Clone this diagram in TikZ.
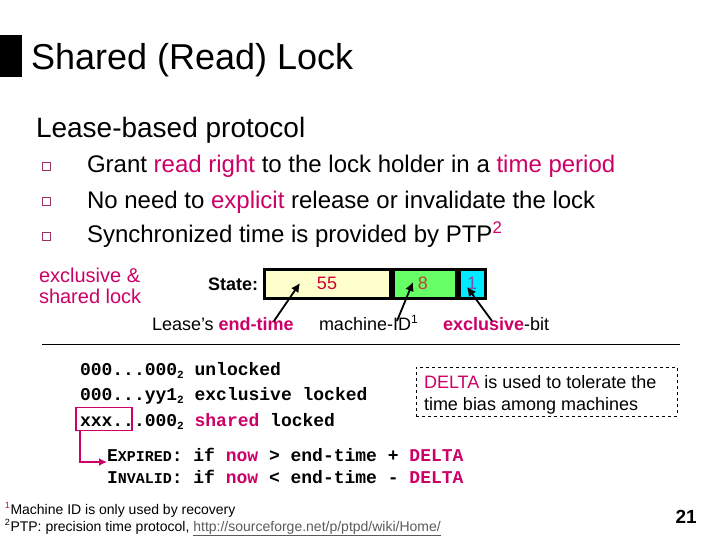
\documentclass[tikz,border=0pt]{standalone}
\usepackage{fontspec}
\setmainfont{Liberation Sans}
\setmonofont{Liberation Mono}
\usetikzlibrary{arrows.meta}
\definecolor{mag}{RGB}{204,0,102}
\definecolor{crim}{RGB}{204,0,51}
\definecolor{brn}{RGB}{196,64,56}
\definecolor{purp}{RGB}{128,80,170}
\definecolor{yel}{RGB}{255,255,204}
\definecolor{grn}{RGB}{102,255,102}
\definecolor{cyn}{RGB}{0,235,255}
\definecolor{bul}{RGB}{153,51,102}
\definecolor{lnk}{RGB}{90,90,90}
\newcommand\myfs[1]{\fontsize{#1}{#1}\selectfont}
\newcommand\msub[1]{\raisebox{-3pt}{\myfs{11}#1}}
\begin{document}
\begin{tikzpicture}[x=1pt,y=-1pt,
  txt/.style={anchor=base west, inner sep=0pt, outer sep=0pt},
  seg/.style={draw=black, line width=3pt, minimum height=29pt, inner sep=0pt, font=\myfs{18}},
  ptr/.style={line width=1.8pt, -{Latex[length=9pt,width=9pt]}},
  code/.style={txt, font=\ttfamily\bfseries\myfs{18}},
  bulsq/.style={draw=bul, line width=0.8pt, minimum size=8pt, inner sep=0pt}]
\useasboundingbox (0,0) rectangle (720,540);
% title
\fill[black] (0,35) rectangle (22,77);
\node[txt, font=\myfs{36}] (title) at (31,70) {Shared (Read) Lock};
\node[txt, font=\myfs{28}] (lease) at (36,138) {Lease-based protocol};
% bullets
\node[bulsq] (b1) at (46,166) {};
\node[bulsq] (b2) at (46,201) {};
\node[bulsq] (b3) at (46,236) {};
\node[txt, font=\myfs{24}] (t1) at (87,173) {Grant \textcolor{mag}{read right} to the lock holder in a \textcolor{mag}{time period}};
\node[txt, font=\myfs{24}] (t2) at (87,208) {No need to \textcolor{mag}{explicit} release or invalidate the lock};
\node[txt, font=\myfs{24}] (t3) at (87,243) {Synchronized time is provided by PTP\textsuperscript{\textcolor{mag}{2}}};
% left label
\node[txt, font=\myfs{20}, text=mag] (ex1) at (39,282) {exclusive \&};
\node[txt, font=\myfs{20}, text=mag] (ex2) at (39,303) {shared lock};
\node[txt, font=\bfseries\myfs{18}] (state) at (208,290) {State:};
% state box
\node[seg, fill=yel, minimum width=126pt, text=crim] (s1) at (327,283.5) {55};
\node[seg, fill=grn, minimum width=63pt, anchor=west, text=brn] (s2) at (s1.east) {\hspace{-3pt}8};
\node[seg, fill=cyn, minimum width=26pt, anchor=west, text=purp] (s3) at (s2.east) {1};
% labels below
\node[txt, font=\myfs{18}] (l1) at (152,330) {Lease’s \textcolor{mag}{\bfseries end-time}};
\node[txt, font=\myfs{18}] (l2) at (319,330) {machine-ID\textsuperscript{\myfs{12}1}};
\node[txt, font=\myfs{18}] (l3) at (443,330) {\textcolor{mag}{\bfseries exclusive}-bit};
\coordinate (a1t) at (274,321); \coordinate (a1h) at (300,283);
\coordinate (a2t) at (397,321); \coordinate (a2h) at (413,282);
\coordinate (a3t) at (492,321); \coordinate (a3h) at (467,287);
\draw[ptr] (a1t) -- (a1h);
\draw[ptr] (a2t) -- (a2h);
\draw[ptr] (a3t) -- (a3h);
% rule
\coordinate (hr1) at (42,344); \coordinate (hr2) at (680,344);
\draw[line width=1pt] (hr1) -- (hr2);
% code
\node[code] (c1) at (80,375) {000...000\msub{2} unlocked};
\node[code] (c2) at (80,400) {000...yy1\msub{2} exclusive locked};
\node[code] (c3) at (80,426) {xxx...000\msub{2} \textcolor{mag}{shared} locked};
\node[draw=mag, line width=1.6pt, minimum width=56pt, minimum height=23pt, inner sep=0pt] (xbox) at (104,419) {};
\coordinate (xa) at (80,462);
\node[txt, font=\ttfamily\bfseries\myfs{18}] (e1) at (107,461) {E{\myfs{15}XPIRED}: if \textcolor{mag}{now} > end-time + \textcolor{mag}{DELTA}};
\node[txt, font=\ttfamily\bfseries\myfs{18}] (e2) at (107,483) {I{\myfs{15}NVALID}: if \textcolor{mag}{now} < end-time - \textcolor{mag}{DELTA}};
\draw[draw=mag, line width=1.6pt, -{Latex[length=8pt,width=8pt]}] (xbox.south west -| xa) -- (xa) -- (xa -| e1.west);
% delta box
\node[draw, dashed, line width=0.8pt, minimum width=261pt, minimum height=49pt, inner sep=0pt] (dbox) at (546.5,391.5) {};
\node[txt, font=\myfs{18}] (d1) at (424,388) {\textcolor{mag}{DELTA} is used to tolerate the};
\node[txt, font=\myfs{18}] (d2) at (424,410) {time bias among machines};
% footnotes
\node[txt, font=\myfs{14}] (f1) at (5,514) {\textsuperscript{\textcolor{mag}{\myfs{9}1}}Machine ID is only used by recovery};
\node[txt, font=\myfs{14}] (f2) at (5,531) {\textsuperscript{\myfs{9}2}PTP: precision time protocol, \textcolor{lnk}{\underline{http://sourceforge.net/p/ptpd/wiki/Home/}}};
\node[anchor=base east, inner sep=0pt, font=\bfseries\myfs{19}] (pg) at (697,523) {21};
\end{tikzpicture}
\end{document}
